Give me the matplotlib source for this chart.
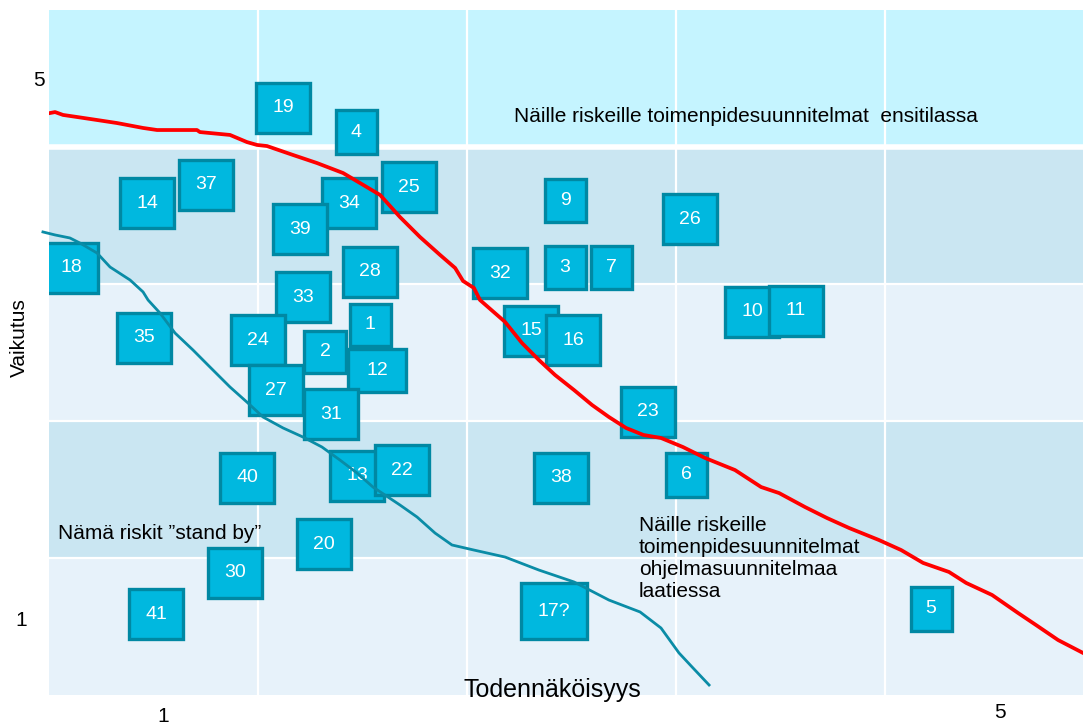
import matplotlib.pyplot as plt
from matplotlib.patches import Rectangle

# Riskimatriisi: todennäköisyys (x) ja vaikutus (y), riskit numeroituina laatikoina

# riskien numerot ja paikat (x = todennäköisyys, y = vaikutus)
RISK_LABELS = ["19", "4", "37", "14", "34", "39", "25", "28", "18", "33", "9", "26",
               "32", "3", "7", "10", "11", "35", "24", "1", "2", "12", "27", "31",
               "15", "16", "23", "40", "13", "22", "38", "6", "20", "30", "41", "17?", "5"]
RISK_X = [1.120, 1.469, 0.751, 0.469, 1.435, 1.201, 1.722, 1.536, 0.105, 1.215, 2.469, 3.067,
          2.158, 2.469, 2.689, 3.364, 3.574, 0.455, 1.000, 1.536, 1.321, 1.569, 1.086, 1.349,
          2.306, 2.507, 2.866, 0.947, 1.474, 1.689, 2.450, 3.048, 1.316, 0.890, 0.512, 2.416, 4.220]
RISK_Y = [4.285, 4.109, 3.723, 3.591, 3.591, 3.401, 3.708, 3.088, 3.117, 2.905, 3.613, 3.474,
          3.080, 3.117, 3.117, 2.796, 2.803, 2.606, 2.591, 2.701, 2.504, 2.372, 2.226, 2.051,
          2.657, 2.591, 2.066, 1.584, 1.599, 1.642, 1.584, 1.606, 1.102, 0.891, 0.591, 0.613, 0.628]

# punainen raja (toimenpiteet ensitilassa)
RED_X = [0.005, 0.029, 0.067, 0.134, 0.230, 0.325, 0.450, 0.517, 0.708, 0.722, 0.866, 0.947,
         0.995, 1.043, 1.167, 1.282, 1.407, 1.488, 1.584, 1.679, 1.775, 1.871, 1.943, 1.981,
         2.033, 2.062, 2.182, 2.263, 2.344, 2.421, 2.512, 2.598, 2.679, 2.761, 2.844, 2.928,
         3.033, 3.139, 3.282, 3.407, 3.493, 3.617, 3.722, 3.828, 3.971, 4.077, 4.182, 4.306,
         4.388, 4.512, 4.636, 4.722, 4.828, 4.947]
RED_Y = [4.248, 4.255, 4.234, 4.219, 4.197, 4.175, 4.139, 4.124, 4.124, 4.109, 4.088, 4.036,
         4.015, 4.007, 3.942, 3.883, 3.810, 3.737, 3.650, 3.489, 3.343, 3.212, 3.117, 3.022,
         2.971, 2.883, 2.723, 2.569, 2.445, 2.336, 2.226, 2.117, 2.029, 1.949, 1.898, 1.876,
         1.810, 1.730, 1.642, 1.518, 1.474, 1.372, 1.292, 1.219, 1.131, 1.058, 0.964, 0.898,
         0.818, 0.730, 0.599, 0.511, 0.401, 0.307]

# sininen raja ("stand by")
TEAL_X = [-0.029, 0.029, 0.100, 0.148, 0.230, 0.292, 0.388, 0.450, 0.474, 0.531, 0.603, 0.689,
          0.770, 0.866, 0.952, 1.024, 1.120, 1.215, 1.306, 1.392, 1.474, 1.550, 1.679, 1.761,
          1.847, 1.928, 2.033, 2.182, 2.344, 2.512, 2.679, 2.828, 2.928, 3.014, 3.077, 3.158]
TEAL_Y = [3.380, 3.358, 3.336, 3.299, 3.226, 3.124, 3.029, 2.942, 2.883, 2.788, 2.642, 2.518,
          2.394, 2.248, 2.131, 2.029, 1.949, 1.883, 1.810, 1.715, 1.620, 1.518, 1.387, 1.299,
          1.182, 1.095, 1.058, 1.007, 0.912, 0.825, 0.693, 0.606, 0.489, 0.307, 0.204, 0.073]

X_TICK_LABELS = ["1", "5"]
Y_TICK_LABELS = ["1", "5"]

# tyylit
BAND_COLORS = ["#E7F2FA", "#CAE6F2", "#E7F2FA", "#CAE6F2", "#C5F4FF"]
BOX_FACE = "#00B8DF"
BOX_EDGE = "#0088A3"
FONT = ["Liberation Sans", "DejaVu Sans"]

# laatikoiden koot (oletus ja poikkeukset)
BOX_SIZE = (0.26, 0.36)
SPECIAL_SIZE = {"4": (0.196, 0.32), "9": (0.196, 0.314), "3": (0.196, 0.314),
                "7": (0.196, 0.314), "1": (0.196, 0.30), "2": (0.20, 0.307),
                "6": (0.196, 0.32), "5": (0.196, 0.32), "12": (0.278, 0.314),
                "17?": (0.316, 0.409)}


def draw_background(ax):
    # vaakasuorat vyöhykkeet
    for i, c in enumerate(BAND_COLORS):
        ax.axhspan(i, i + 1, color=c, lw=0, zorder=0)
    for yv in [1, 2, 3]:
        ax.axhline(yv, color="white", lw=1.6, zorder=1)
    ax.axhline(4, color="white", lw=4, zorder=1)
    for xv in [1, 2, 3, 4]:
        ax.axvline(xv, color="white", lw=1.6, zorder=1)


def draw_risks(ax):
    for lab, x, y in zip(RISK_LABELS, RISK_X, RISK_Y):
        w, h = SPECIAL_SIZE.get(lab, BOX_SIZE)
        ax.add_patch(Rectangle((x - w / 2, y - h / 2), w, h, facecolor=BOX_FACE,
                               edgecolor=BOX_EDGE, lw=2.4, zorder=2))
        ax.text(x, y, lab, color="white", fontsize=14, ha="center", va="center",
                family=FONT, zorder=2)


def main():
    fig = plt.figure(figsize=(10.83, 7.26), dpi=100)
    ax = fig.add_axes([49 / 1083, 31 / 726, 1034 / 1083, 685 / 726])
    ax.set_xlim(0, 4.947)
    ax.set_ylim(0, 5)
    ax.axis("off")

    draw_background(ax)
    draw_risks(ax)

    ax.plot(RED_X, RED_Y, color="#FF0000", lw=2.7, zorder=4, solid_joinstyle="round")
    ax.plot(TEAL_X, TEAL_Y, color="#0A8CA6", lw=2.0, zorder=4, clip_on=False)

    # tekstit
    ax.text(2.225, 4.226, "Näille riskeille toimenpidesuunnitelmat  ensitilassa",
            fontsize=15, family=FONT, ha="left", va="center", zorder=5)
    ax.text(0.043, 1.182, "Nämä riskit ”stand by”", fontsize=15, family=FONT,
            ha="left", va="center", zorder=5)
    ax.text(2.823, 1.31, "Näille riskeille\ntoimenpidesuunnitelmat\nohjelmasuunnitelmaa\nlaatiessa",
            fontsize=15, family=FONT, ha="left", va="top", linespacing=1.2, zorder=5)
    ax.text(2.406, 0.04, "Todennäköisyys", fontsize=18, family=FONT, ha="center",
            va="center", zorder=5)
    ax.text(-0.14, 2.61, "Vaikutus", fontsize=15, family=FONT, rotation=90,
            ha="center", va="center", clip_on=False)

    # akselien merkinnät
    ax.text(0.545, -0.09, X_TICK_LABELS[0], fontsize=15, family=FONT, ha="center", va="top")
    ax.text(4.55, -0.058, X_TICK_LABELS[1], fontsize=15, family=FONT, ha="center", va="top")
    ax.text(-0.105, 0.547, Y_TICK_LABELS[0], fontsize=15, family=FONT, ha="right", va="center")
    ax.text(-0.019, 4.489, Y_TICK_LABELS[1], fontsize=15, family=FONT, ha="right", va="center")

    fig.savefig("out.png", dpi=100)


main()
